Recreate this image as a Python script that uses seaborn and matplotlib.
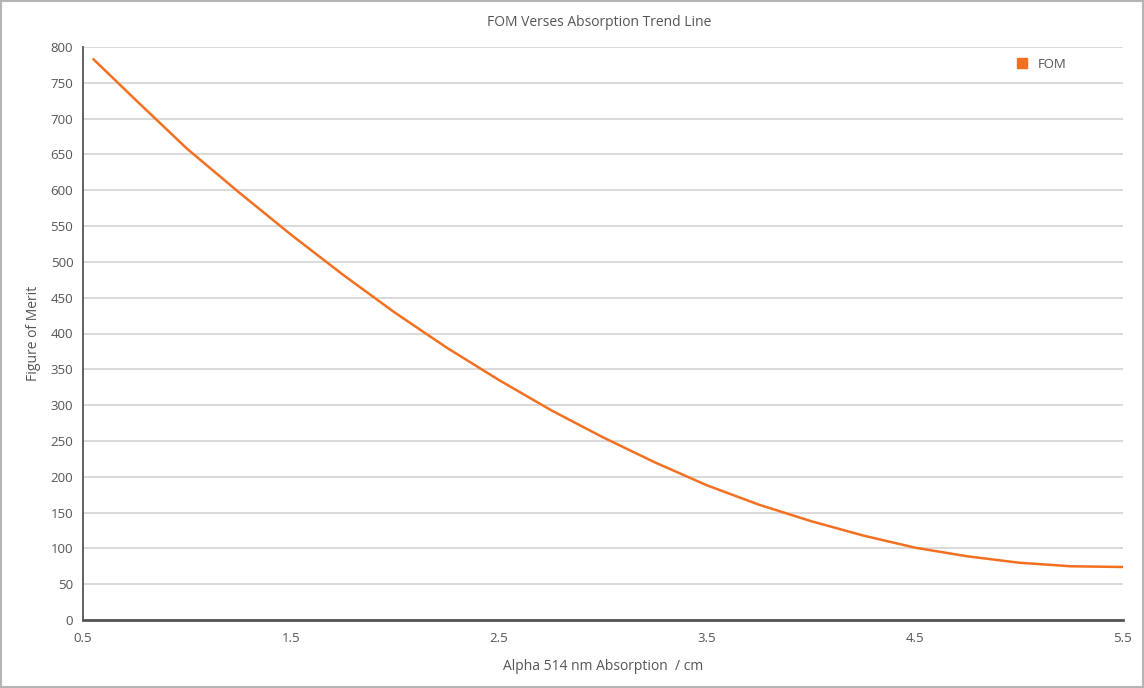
import pandas as pd
import numpy as np
import matplotlib
matplotlib.use('Agg')
import matplotlib.pyplot as plt
import seaborn as sns
from matplotlib.lines import Line2D
from matplotlib.patches import Rectangle

# values
absorption = [0.55, 0.75, 1.0, 1.25, 1.5, 1.75, 2.0, 2.25, 2.5, 2.75, 3.0,
              3.25, 3.5, 3.75, 4.0, 4.25, 4.5, 4.75, 5.0, 5.25, 5.5]
fom = [783, 727, 658, 597, 538, 482, 429, 380, 335, 293, 255,
       220, 188, 161, 138, 118, 101, 89, 80, 75, 74]

x_ticks = [0.5, 1.5, 2.5, 3.5, 4.5, 5.5]
y_ticks = list(range(0, 801, 50))

line_color = '#f37021'
text_color = '#555555'

sns.set_theme(style='white')
plt.rcParams['font.family'] = ['Open Sans', 'DejaVu Sans']

df = pd.DataFrame({'Alpha': absorption, 'FOM': fom})

fig = plt.figure(figsize=(11.44, 6.88), dpi=100)
ax = fig.add_axes([83 / 1144, 1 - 620 / 688, 1040 / 1144, 573 / 688])

sns.lineplot(data=df, x='Alpha', y='FOM', ax=ax, color=line_color, linewidth=1.8, legend=False)

ax.set_xlim(0.5, 5.5)
ax.set_ylim(0, 800)
ax.set_xticks(x_ticks)
ax.set_xticklabels([str(t) for t in x_ticks])
ax.set_yticks(y_ticks)
ax.yaxis.grid(True, color='#cfcfcf', linewidth=1.1)
ax.xaxis.grid(False)
ax.set_axisbelow(True)

for s in ['top', 'right']:
    ax.spines[s].set_visible(False)
ax.spines['left'].set_color('#555555')
ax.spines['left'].set_linewidth(1.3)
ax.spines['bottom'].set_color('#555555')
ax.spines['bottom'].set_linewidth(2)

ax.tick_params(axis='both', colors='#555555', labelcolor=text_color, labelsize=9.5,
               length=3, width=1, direction='out')
ax.tick_params(axis='x', pad=6)
ax.tick_params(axis='y', pad=4)

ax.set_xlabel('Alpha 514 nm Absorption  / cm', fontsize=10, color=text_color, labelpad=10)
ax.set_ylabel('Figure of Merit', fontsize=10, color=text_color, labelpad=7)

fig.text(599 / 1144, 1 - 22 / 688, 'FOM Verses Absorption Trend Line', ha='center', va='center',
         fontsize=10, color=text_color)

handle = Line2D([], [], marker='s', linestyle='none', color=line_color, markersize=7)
ax.legend(handles=[handle], labels=['FOM'], loc='center left',
          bbox_to_anchor=(997 / 1144, 1 - 64 / 688), bbox_transform=fig.transFigure,
          frameon=False, handletextpad=0.2, fontsize=9.5, labelcolor=text_color)

# thin border round the whole picture
fig.patches.append(Rectangle((0.001, 0.001), 0.998, 0.997, transform=fig.transFigure,
                             fill=False, edgecolor='#b5b5b5', linewidth=1.5))

fig.savefig('out.png', dpi=100)
